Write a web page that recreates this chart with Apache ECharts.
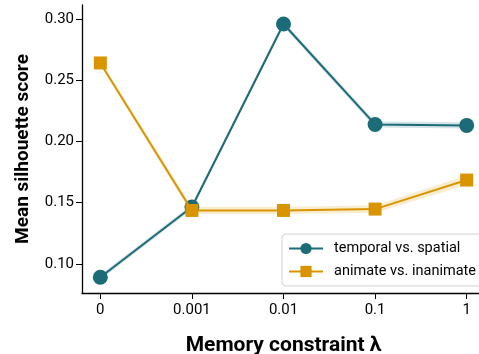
<!DOCTYPE html>
<html><head><meta charset="utf-8">
<script src="https://cdn.jsdelivr.net/npm/echarts@6/dist/echarts.min.js"></script>
<style>html,body{margin:0;padding:0;background:#fff}#c{width:479px;height:354px}</style>
</head><body><div id="c"></div>
<script>
var categories = ['0', '0.001', '0.01', '0.1', '1'];
var temporal = [0.0891, 0.1465, 0.2959, 0.2139, 0.2131];
var temporalErr = [0.002, 0.002, 0.002, 0.0025, 0.0025];
var animate = [0.2641, 0.1437, 0.1437, 0.1448, 0.1685];
var animateErr = [0.002, 0.003, 0.003, 0.003, 0.004];
var yTicks = [0.10, 0.15, 0.20, 0.25, 0.30];
var xTicks = [0, 1, 2, 3, 4];

var TEAL = '#1b6b78', GOLD = '#d99500';
var FONT = 'Roboto, sans-serif';

function pairs(vals){ return vals.map(function(v,i){ return [i, v]; }); }
function band(vals, errs, color){
  var d = vals.map(function(v,i){ return [i, v-errs[i], v+errs[i]]; });
  return {
    type:'custom', silent:true, z:1, data:d,
    renderItem:function(params, api){
      if (params.dataIndex !== 0) return null;
      var upper = [], lower = [];
      for (var i=0;i<d.length;i++){
        upper.push(api.coord([d[i][0], d[i][2]]));
        lower.unshift(api.coord([d[i][0], d[i][1]]));
      }
      return {type:'polygon', shape:{points:upper.concat(lower)},
        style:{fill:color, opacity:0.18}};
    },
    encode:{x:0, y:[1,2]}
  };
}

var chart = echarts.init(document.getElementById('c'), null, {renderer:'canvas'});
var series = [
  band(temporal, temporalErr, TEAL),
  band(animate, animateErr, GOLD),
  {type:'line', name:'temporal vs. spatial', data:pairs(temporal), symbol:'circle', symbolSize:15,
   itemStyle:{color:TEAL}, lineStyle:{color:TEAL, width:2}, z:3},
  {type:'line', name:'animate vs. inanimate', data:pairs(animate), symbol:'rect', symbolSize:13,
   itemStyle:{color:GOLD}, lineStyle:{color:GOLD, width:2}, z:4}
];

chart.setOption({
  animation:false,
  grid:{left:82, top:5, width:403, height:288, containLabel:false, outerBoundsMode:'none'},
  xAxis:{type:'value', min:-0.2, max:4.2,
    axisLine:{show:true, onZero:false, lineStyle:{color:'#000', width:1.3}},
    axisTick:{show:true, length:6, lineStyle:{color:'#000'}, customValues:xTicks},
    splitLine:{show:false},
    axisLabel:{fontSize:15, color:'#000', fontFamily:FONT, margin:10, customValues:xTicks,
      formatter:function(v){ return categories[Math.round(v)]; }},
    name:'Memory constraint λ', nameLocation:'middle', nameGap:42,
    nameTextStyle:{fontSize:21, fontWeight:'bold', color:'#000', fontFamily:FONT}
  },
  yAxis:{type:'value', min:0.0763, max:0.3114,
    axisLine:{show:true, onZero:false, lineStyle:{color:'#000', width:1.3}},
    axisTick:{show:true, length:6, lineStyle:{color:'#000'}, customValues:yTicks},
    axisLabel:{fontSize:15, color:'#000', fontFamily:FONT, margin:8, customValues:yTicks,
      formatter:function(v){ return v.toFixed(2); }},
    splitLine:{show:false},
    name:'Mean silhouette score', nameLocation:'middle', nameGap:49,
    nameTextStyle:{fontSize:19, fontWeight:'bold', color:'#000', fontFamily:FONT}
  },
  legend:{data:['temporal vs. spatial','animate vs. inanimate'], orient:'vertical',
    left:282, top:234, itemWidth:34, itemHeight:14, itemGap:8,
    padding:[7,10,7,6], borderColor:'#d0d0d0', borderWidth:1, borderRadius:4,
    backgroundColor:'#fff',
    textStyle:{fontSize:14.5, color:'#000', fontFamily:FONT, padding:[0,0,0,6]}},
  series:series
});
</script></body></html>
